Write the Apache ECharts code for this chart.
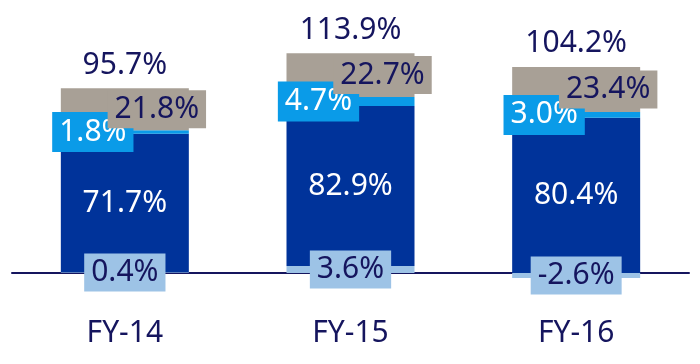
<!DOCTYPE html>
<html><head><meta charset="utf-8">
<script src="https://cdn.jsdelivr.net/npm/echarts@6/dist/echarts.min.js"></script>
<style>html,body{margin:0;padding:0;background:#fff}#c{width:700px;height:364px}</style>
</head><body><div id="c"></div>
<script>
var categories = ['FY-14', 'FY-15', 'FY-16'];
var lightBlue = [0.4, 3.6, -2.6];
var darkBlue = [71.7, 82.9, 80.4];
var brightBlue = [1.8, 4.7, 3.0];
var grey = [21.8, 22.7, 23.4];
var totals = [95.7, 113.9, 104.2];

var navy = '#15155e';
var font = 'Noto Sans';
var fs = 30;
var posTop = categories.map(function (c, i) {
  return [lightBlue, darkBlue, brightBlue, grey].reduce(function (s, arr) {
    return s + (arr[i] > 0 ? arr[i] : 0);
  }, 0);
});
function pct(p) { return p.value.toFixed(1) + '%'; }
function seg(name, data, color, label) {
  return {
    name: name, type: 'bar', stack: 's', data: data, barWidth: 128,
    itemStyle: { color: color },
    label: Object.assign({ show: true, position: 'inside', formatter: pct,
      fontFamily: font, fontSize: fs, lineHeight: fs }, label)
  };
}
var chart = echarts.init(document.getElementById('c'));
chart.setOption({
  animation: false,
  grid: { left: 12, right: 11, top: 41.4, bottom: 52.4, containLabel: false, outerBoundsMode: 'none' },
  xAxis: {
    type: 'category', data: categories,
    axisLine: { onZero: true, lineStyle: { color: navy, width: 2 } },
    axisTick: { show: false },
    axisLabel: { color: navy, fontFamily: font, fontSize: fs, margin: 7 }
  },
  yAxis: { type: 'value', min: -20, max: 120, show: false, splitLine: { show: false } },
  series: [
    seg('light', lightBlue, '#9dc3e6', { color: navy, backgroundColor: '#9dc3e6', padding: [4, 7, 4, 7] }),
    seg('dark', darkBlue, '#00339a', { color: '#ffffff' }),
    seg('bright', brightBlue, '#0a9be8', { color: '#ffffff', backgroundColor: '#0a9be8', padding: [5, 7, 5, 7], offset: [-32, 0] }),
    seg('grey', grey, '#a8a096', { color: navy, backgroundColor: '#a8a096', padding: [4, 7, 4, 7], offset: [32, 0] }),
    {
      name: 'total', type: 'bar', data: posTop, barWidth: 128, barGap: '-100%', z: 1,
      itemStyle: { color: 'rgba(0,0,0,0)' }, silent: true,
      label: { show: true, position: 'top', distance: 8, color: navy, fontFamily: font, fontSize: fs,
        formatter: function (p) { return totals[p.dataIndex].toFixed(1) + '%'; } }
    }
  ]
});
</script></body></html>
